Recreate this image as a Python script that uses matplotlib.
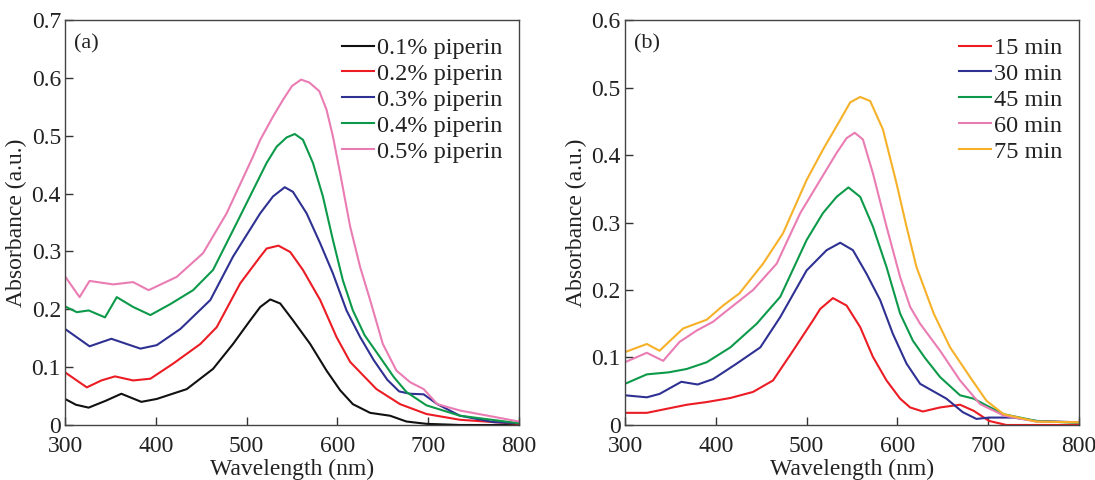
import matplotlib
matplotlib.use("Agg")
import matplotlib.pyplot as plt
from matplotlib import font_manager

# Times-like serif: prefer Liberation Serif, else matplotlib's bundled STIX
serif = 'STIXGeneral'
for name in ['Liberation Serif', 'Times New Roman']:
    try:
        font_manager.findfont(name, fallback_to_default=False)
        serif = name
        break
    except Exception:
        pass
plt.rcParams['font.family'] = [serif, 'DejaVu Serif']

# ---- panel (a): piperin concentration ----
wl_01 = [300, 312, 326, 345, 362, 384, 401, 434, 463, 485, 504, 515, 526, 537, 551, 570, 588, 603, 617, 636, 658, 676, 698, 735, 800]
ab_01 = [0.045, 0.035, 0.030, 0.042, 0.054, 0.040, 0.045, 0.062, 0.097, 0.140, 0.181, 0.204, 0.217, 0.210, 0.181, 0.140, 0.094, 0.060, 0.036, 0.021, 0.016, 0.006, 0.002, 0.0, 0.0]

wl_02 = [300, 324, 340, 355, 375, 394, 419, 449, 467, 493, 515, 522, 535, 548, 562, 581, 599, 614, 643, 669, 698, 735, 800]
ab_02 = [0.091, 0.065, 0.077, 0.084, 0.077, 0.080, 0.106, 0.140, 0.169, 0.245, 0.291, 0.305, 0.310, 0.299, 0.268, 0.216, 0.152, 0.109, 0.062, 0.036, 0.019, 0.009, 0.002]

wl_03 = [300, 327, 351, 383, 401, 427, 460, 485, 515, 529, 542, 551, 566, 581, 595, 610, 625, 640, 655, 668, 680, 695, 710, 735, 772, 800]
ab_03 = [0.166, 0.136, 0.149, 0.132, 0.138, 0.166, 0.216, 0.291, 0.366, 0.395, 0.411, 0.403, 0.366, 0.314, 0.262, 0.198, 0.152, 0.112, 0.078, 0.058, 0.054, 0.053, 0.036, 0.016, 0.005, 0.003]

wl_04 = [300, 313, 326, 344, 357, 375, 394, 416, 441, 463, 489, 522, 533, 544, 553, 562, 573, 584, 595, 606, 617, 630, 647, 662, 676, 698, 735, 800]
ab_04 = [0.205, 0.195, 0.198, 0.186, 0.221, 0.204, 0.190, 0.209, 0.233, 0.268, 0.349, 0.453, 0.481, 0.497, 0.503, 0.493, 0.453, 0.395, 0.320, 0.250, 0.198, 0.155, 0.117, 0.083, 0.057, 0.034, 0.016, 0.003]

wl_05 = [300, 316, 327, 353, 375, 392, 423, 452, 478, 507, 515, 529, 540, 550, 560, 569, 580, 588, 595, 603, 614, 625, 636, 650, 665, 680, 695, 710, 735, 800]
ab_05 = [0.257, 0.221, 0.249, 0.243, 0.247, 0.233, 0.256, 0.297, 0.366, 0.464, 0.493, 0.533, 0.562, 0.586, 0.597, 0.592, 0.577, 0.545, 0.499, 0.435, 0.343, 0.273, 0.216, 0.140, 0.094, 0.074, 0.062, 0.036, 0.025, 0.006]

labels_a = ['0.1% piperin', '0.2% piperin', '0.3% piperin', '0.4% piperin', '0.5% piperin']

# ---- panel (b): reaction time ----
wl_15 = [300, 324, 368, 390, 416, 441, 463, 485, 507, 515, 529, 544, 559, 573, 588, 603, 614, 628, 647, 669, 684, 701, 720, 800]
ab_15 = [0.018, 0.018, 0.030, 0.034, 0.040, 0.049, 0.066, 0.110, 0.155, 0.172, 0.188, 0.177, 0.145, 0.101, 0.066, 0.039, 0.026, 0.020, 0.026, 0.030, 0.021, 0.006, 0.0, 0.0]

wl_30 = [300, 324, 338, 362, 380, 397, 423, 449, 471, 500, 522, 537, 551, 566, 581, 595, 610, 625, 654, 672, 687, 701, 728, 753, 800]
ab_30 = [0.044, 0.041, 0.046, 0.064, 0.060, 0.068, 0.091, 0.115, 0.160, 0.229, 0.259, 0.270, 0.259, 0.224, 0.185, 0.135, 0.091, 0.061, 0.039, 0.019, 0.009, 0.011, 0.011, 0.006, 0.004]

wl_45 = [300, 324, 348, 368, 390, 416, 445, 471, 500, 518, 533, 546, 559, 573, 588, 603, 617, 630, 647, 669, 684, 698, 717, 753, 800]
ab_45 = [0.061, 0.075, 0.078, 0.083, 0.093, 0.115, 0.150, 0.190, 0.274, 0.314, 0.338, 0.352, 0.338, 0.294, 0.234, 0.165, 0.125, 0.100, 0.071, 0.044, 0.039, 0.029, 0.016, 0.006, 0.003]

wl_60 = [300, 324, 342, 360, 379, 397, 408, 441, 467, 493, 515, 533, 544, 553, 562, 573, 588, 603, 614, 625, 647, 669, 691, 717, 753, 800]
ab_60 = [0.093, 0.107, 0.095, 0.123, 0.140, 0.153, 0.165, 0.200, 0.239, 0.314, 0.363, 0.403, 0.425, 0.433, 0.423, 0.373, 0.294, 0.219, 0.175, 0.150, 0.110, 0.066, 0.031, 0.014, 0.005, 0.004]

wl_75 = [300, 324, 338, 364, 390, 408, 426, 452, 474, 500, 518, 537, 548, 559, 570, 584, 599, 610, 621, 640, 658, 680, 698, 717, 753, 800]
ab_75 = [0.108, 0.120, 0.110, 0.143, 0.156, 0.177, 0.195, 0.239, 0.284, 0.363, 0.408, 0.452, 0.478, 0.486, 0.480, 0.438, 0.358, 0.294, 0.234, 0.165, 0.115, 0.071, 0.036, 0.016, 0.005, 0.004]

labels_b = ['15 min', '30 min', '45 min', '60 min', '75 min']

colors_a = ['#111111', '#ec1c24', '#2e3192', '#0c9a4a', '#ea7cb4']
colors_b = ['#ec1c24', '#2e3192', '#0c9a4a', '#ea7cb4', '#f6b129']

series_a = [(wl_01, ab_01), (wl_02, ab_02), (wl_03, ab_03), (wl_04, ab_04), (wl_05, ab_05)]
series_b = [(wl_15, ab_15), (wl_30, ab_30), (wl_45, ab_45), (wl_60, ab_60), (wl_75, ab_75)]

fig = plt.figure(figsize=(10.95, 4.8), dpi=100)
ax1 = fig.add_axes([0.0594, 0.1146, 0.4146, 0.8437])
ax2 = fig.add_axes([0.5708, 0.1146, 0.4146, 0.8437])


def fmt(v, pos):
    return '0' if abs(v) < 1e-9 else f'{v:.1f}'


for ax, series, colors, labels, ymax, tag in [
        (ax1, series_a, colors_a, labels_a, 0.7, '(a)'),
        (ax2, series_b, colors_b, labels_b, 0.6, '(b)')]:
    for (x, y), c, lab in zip(series, colors, labels):
        ax.plot(x, y, color=c, lw=1.5, label=lab, solid_joinstyle='round')
    ax.set_xlim(300, 800)
    ax.set_ylim(0, ymax)
    ax.set_xticks([300, 400, 500, 600, 700, 800])
    ax.set_yticks([i / 10 for i in range(int(round(ymax * 10)) + 1)])
    ax.yaxis.set_major_formatter(plt.FuncFormatter(fmt))
    ax.tick_params(direction='in', length=6, width=1, labelsize=17, colors='#333333',
                   labelcolor='#222222')
    ax.tick_params(axis='x', pad=8)
    ax.tick_params(axis='y', pad=3)
    for s in ax.spines.values():
        s.set_color('#444444')
        s.set_linewidth(1)
    ax.set_xlabel('Wavelength (nm)', fontsize=17, labelpad=1, color='#222222')
    ax.set_ylabel('Absorbance (a.u.)', fontsize=17, labelpad=3, color='#222222')
    ax.text(0.02, 0.965, tag, transform=ax.transAxes, fontsize=16, va='top', ha='left',
            color='#222222')
    ax.legend(loc='upper right', frameon=False, fontsize=17.5, handlelength=1.3,
              handletextpad=0.12, labelspacing=0.16, borderaxespad=0.3,
              labelcolor='#222222')

fig.savefig('out.png', dpi=100)
